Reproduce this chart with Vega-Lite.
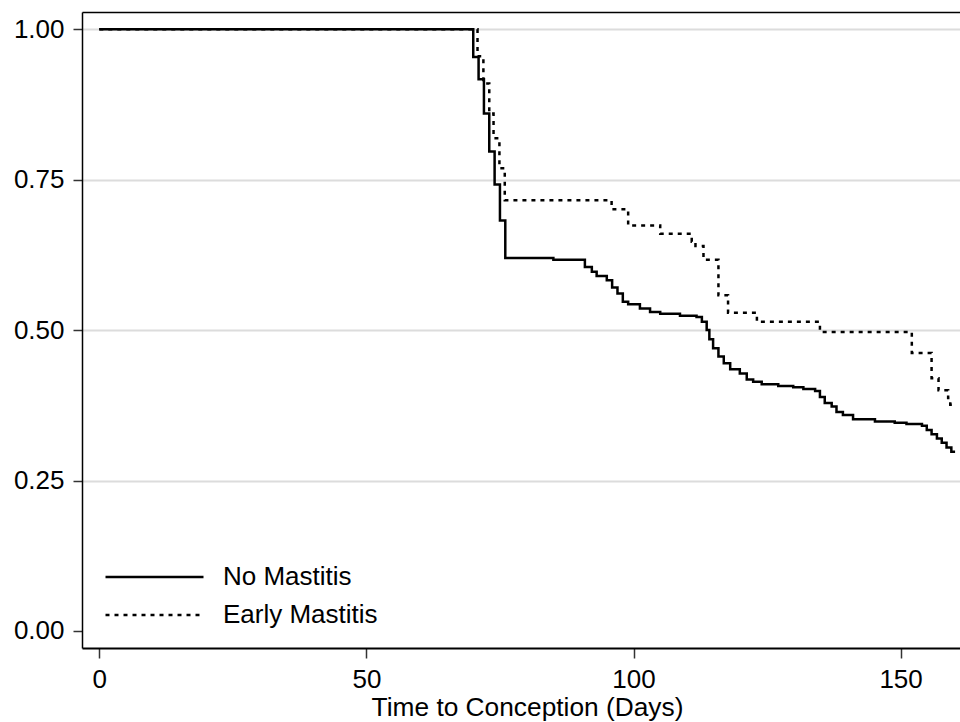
{
  "$schema": "https://vega.github.io/schema/vega-lite/v6.json",
  "width": 878,
  "height": 636,
  "autosize": {"type": "none"},
  "padding": {"left": 82, "top": 12, "right": 0, "bottom": 74},
  "background": "white",
  "config": {"font": "Liberation Sans", "view": {"stroke": null}},
  "datasets": {
    "km": [
      {"day": 0, "S": 1.0, "group": "No Mastitis"},
      {"day": 70, "S": 0.954, "group": "No Mastitis"},
      {"day": 71, "S": 0.917, "group": "No Mastitis"},
      {"day": 72, "S": 0.86, "group": "No Mastitis"},
      {"day": 73, "S": 0.797, "group": "No Mastitis"},
      {"day": 74, "S": 0.742, "group": "No Mastitis"},
      {"day": 75, "S": 0.682, "group": "No Mastitis"},
      {"day": 76, "S": 0.62, "group": "No Mastitis"},
      {"day": 85, "S": 0.617, "group": "No Mastitis"},
      {"day": 90.9, "S": 0.605, "group": "No Mastitis"},
      {"day": 92.2, "S": 0.597, "group": "No Mastitis"},
      {"day": 93.1, "S": 0.59, "group": "No Mastitis"},
      {"day": 95, "S": 0.583, "group": "No Mastitis"},
      {"day": 96, "S": 0.571, "group": "No Mastitis"},
      {"day": 97, "S": 0.561, "group": "No Mastitis"},
      {"day": 98, "S": 0.547, "group": "No Mastitis"},
      {"day": 99, "S": 0.543, "group": "No Mastitis"},
      {"day": 101.2, "S": 0.536, "group": "No Mastitis"},
      {"day": 103.1, "S": 0.53, "group": "No Mastitis"},
      {"day": 105, "S": 0.527, "group": "No Mastitis"},
      {"day": 108.7, "S": 0.524, "group": "No Mastitis"},
      {"day": 111.8, "S": 0.522, "group": "No Mastitis"},
      {"day": 112.8, "S": 0.514, "group": "No Mastitis"},
      {"day": 113.7, "S": 0.5, "group": "No Mastitis"},
      {"day": 114.2, "S": 0.485, "group": "No Mastitis"},
      {"day": 114.9, "S": 0.47, "group": "No Mastitis"},
      {"day": 115.9, "S": 0.456, "group": "No Mastitis"},
      {"day": 116.9, "S": 0.445, "group": "No Mastitis"},
      {"day": 118.1, "S": 0.435, "group": "No Mastitis"},
      {"day": 119.9, "S": 0.428, "group": "No Mastitis"},
      {"day": 121.2, "S": 0.418, "group": "No Mastitis"},
      {"day": 122.4, "S": 0.414, "group": "No Mastitis"},
      {"day": 124, "S": 0.41, "group": "No Mastitis"},
      {"day": 127.1, "S": 0.407, "group": "No Mastitis"},
      {"day": 129.9, "S": 0.405, "group": "No Mastitis"},
      {"day": 131.8, "S": 0.402, "group": "No Mastitis"},
      {"day": 134, "S": 0.399, "group": "No Mastitis"},
      {"day": 134.9, "S": 0.389, "group": "No Mastitis"},
      {"day": 135.8, "S": 0.379, "group": "No Mastitis"},
      {"day": 137.1, "S": 0.373, "group": "No Mastitis"},
      {"day": 138, "S": 0.364, "group": "No Mastitis"},
      {"day": 139.2, "S": 0.359, "group": "No Mastitis"},
      {"day": 141.1, "S": 0.352, "group": "No Mastitis"},
      {"day": 145.2, "S": 0.348, "group": "No Mastitis"},
      {"day": 148.9, "S": 0.346, "group": "No Mastitis"},
      {"day": 151.1, "S": 0.344, "group": "No Mastitis"},
      {"day": 154, "S": 0.341, "group": "No Mastitis"},
      {"day": 154.9, "S": 0.334, "group": "No Mastitis"},
      {"day": 155.8, "S": 0.327, "group": "No Mastitis"},
      {"day": 156.8, "S": 0.32, "group": "No Mastitis"},
      {"day": 157.7, "S": 0.313, "group": "No Mastitis"},
      {"day": 158.6, "S": 0.305, "group": "No Mastitis"},
      {"day": 159.5, "S": 0.298, "group": "No Mastitis"},
      {"day": 160.2, "S": 0.298, "group": "No Mastitis"},
      {"day": 0, "S": 1.0, "group": "Early Mastitis"},
      {"day": 70.8, "S": 0.955, "group": "Early Mastitis"},
      {"day": 71.9, "S": 0.91, "group": "Early Mastitis"},
      {"day": 73, "S": 0.86, "group": "Early Mastitis"},
      {"day": 73.8, "S": 0.819, "group": "Early Mastitis"},
      {"day": 74.9, "S": 0.769, "group": "Early Mastitis"},
      {"day": 75.9, "S": 0.716, "group": "Early Mastitis"},
      {"day": 95.9, "S": 0.701, "group": "Early Mastitis"},
      {"day": 99, "S": 0.674, "group": "Early Mastitis"},
      {"day": 105, "S": 0.66, "group": "Early Mastitis"},
      {"day": 110.9, "S": 0.647, "group": "Early Mastitis"},
      {"day": 111.6, "S": 0.64, "group": "Early Mastitis"},
      {"day": 113.1, "S": 0.617, "group": "Early Mastitis"},
      {"day": 115.9, "S": 0.558, "group": "Early Mastitis"},
      {"day": 117.7, "S": 0.529, "group": "Early Mastitis"},
      {"day": 123.1, "S": 0.514, "group": "Early Mastitis"},
      {"day": 134.9, "S": 0.497, "group": "Early Mastitis"},
      {"day": 152.1, "S": 0.462, "group": "Early Mastitis"},
      {"day": 155.8, "S": 0.42, "group": "Early Mastitis"},
      {"day": 157.1, "S": 0.4, "group": "Early Mastitis"},
      {"day": 158.9, "S": 0.387, "group": "Early Mastitis"},
      {"day": 159.3, "S": 0.376, "group": "Early Mastitis"},
      {"day": 159.7, "S": 0.376, "group": "Early Mastitis"}
    ]
  },
  "data": {"name": "km"},
  "layer": [
    {
      "mark": {"type": "line", "interpolate": "step-after", "color": "black", "strokeWidth": 2.5, "strokeCap": "butt"},
      "encoding": {
        "x": {
          "field": "day", "type": "quantitative",
          "scale": {"domain": [-3.24, 161.12], "nice": false, "zero": false},
          "axis": {
            "values": [0, 50, 100, 150], "grid": false,
            "labelFontSize": 26, "labelColor": "black", "labelPadding": 8,
            "tickSize": 10, "tickColor": "#333", "tickWidth": 1.5,
            "domainColor": "black", "domainWidth": 2,
            "title": "Time to Conception (Days)", "titleFontSize": 26.3, "titleFontWeight": "normal",
            "titleColor": "black", "titleX": 445, "titleY": 67, "titleBaseline": "alphabetic", "titleAlign": "center", "titleAnchor": null
          }
        },
        "y": {
          "field": "S", "type": "quantitative",
          "scale": {"domain": [-0.0283, 1.0287], "nice": false, "zero": false},
          "axis": {
            "values": [0, 0.25, 0.5, 0.75, 1], "format": ".2f", "title": null,
            "labelFontSize": 26, "labelColor": "black", "labelPadding": 9,
            "tickSize": 9, "tickColor": "#333", "tickWidth": 1.5,
            "domainColor": "black", "domainWidth": 1.5,
            "grid": true, "gridColor": "#dcdcdc", "gridWidth": 2,
            "gridOpacity": {"condition": {"test": "datum.value === 0", "value": 0}, "value": 1}
          }
        },
        "strokeDash": {
          "field": "group", "type": "nominal",
          "scale": {"domain": ["No Mastitis", "Early Mastitis"], "range": [[1, 0], [4, 5]]},
          "legend": {
            "title": null, "orient": "none", "legendX": 22, "legendY": 555, "padding": 0,
            "symbolType": "stroke", "symbolSize": 9604, "symbolStrokeWidth": 2.5, "symbolStrokeColor": "black",
            "clipHeight": 20, "rowPadding": 12,
            "labelFontSize": 26, "labelColor": "black", "labelOffset": 18, "labelLimit": 400
          }
        }
      }
    },
    {
      "mark": {"type": "line", "opacity": 0},
      "encoding": {
        "x": {
          "field": "day", "type": "quantitative",
          "axis": {"orient": "top", "labels": false, "ticks": false, "grid": false, "title": null, "domainColor": "black", "domainWidth": 1.5}
        },
        "y": {"field": "S", "type": "quantitative"}
      }
    }
  ],
  "resolve": {"axis": {"x": "independent"}}
}
